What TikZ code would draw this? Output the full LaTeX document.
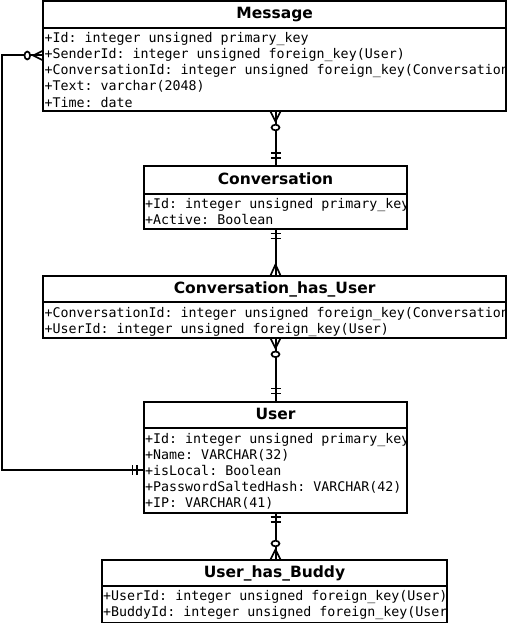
\documentclass[tikz,border=0pt]{standalone}
\usepackage{fontspec}
\setsansfont{DejaVu Sans}
\setmonofont{DejaVu Sans Mono}
\newcommand\errows[4]{% name, x, first baseline, list
  \foreach \rt [count=\ri from 0] in {#4} {\node[erattr] (#1-\ri) at (#2, {-(#3+16*\ri)}) {\rt};}
}
\begin{document}
\begin{tikzpicture}[x=1pt,y=1pt,
  erentity/.style={draw, line width=2pt, inner sep=0pt, outer sep=0pt, rectangle},
  ersep/.style={line width=2pt},
  ertitle/.style={anchor=base, inner sep=0pt, font=\sffamily\bfseries\fontsize{15.5}{16}\selectfont},
  erattr/.style={anchor=base west, inner sep=0pt, font=\ttfamily\fontsize{13.3}{16}\selectfont},
  conn/.style={line width=2pt},
  mk/.style={line width=1.7pt},
  zeromany/.pic={\draw[mk] (0,5)--(10,0)--(0,-5); \draw[mk,fill=white] (16,0) ellipse[x radius=2.8, y radius=4];},
  onemany/.pic={\draw[mk] (0,5)--(11,0)--(0,-5);},
  oneonefar/.pic={\draw[mk] (8,-5)--(8,5) (13,-5)--(13,5);},
  oneonenear/.pic={\draw[mk] (4.5,-5)--(4.5,5) (9.5,-5)--(9.5,5);},
  oneoneside/.pic={\draw[mk] (7,-5)--(7,5) (11.5,-5)--(11.5,5);},
]
\useasboundingbox (0,0) rectangle (508,-623);

% ---------- Message
\node[erentity, minimum width=462.7, minimum height=110.5] (msg) at (274.65,-56.25) {};
\begin{scope}
  \clip (43.3,-1) rectangle (506,-111.5);
  \node[ertitle] (msgt) at (274.65,-19) {Message};
  \errows{msgr}{44.3}{43}{{+Id: integer unsigned primary\_key},{+SenderId: integer unsigned foreign\_key(User)},{+ConversationId: integer unsigned foreign\_key(Conversation)},{+Text: varchar(2048)},{+Time: date}}
\end{scope}
\draw[ersep] ([yshift=-27pt]msg.north west) -- ([yshift=-27pt]msg.north east);

% ---------- Conversation
\node[erentity, minimum width=263, minimum height=63] (conv) at (275.5,-197.5) {};
\begin{scope}
  \clip (144,-166) rectangle (407,-229);
  \node[ertitle] (convt) at (275.5,-184.5) {Conversation};
  \errows{convr}{145}{208.5}{{+Id: integer unsigned primary\_key},{+Active: Boolean}}
\end{scope}
\draw[ersep] ([yshift=-27.5pt]conv.north west) -- ([yshift=-27.5pt]conv.north east);

% ---------- Conversation_has_User
\node[erentity, minimum width=462.7, minimum height=62.8] (chu) at (274.65,-306.9) {};
\begin{scope}
  \clip (43.3,-275.5) rectangle (506,-338.3);
  \node[ertitle] (chut) at (274.65,-293) {Conversation\_has\_User};
  \errows{chur}{44.3}{317}{{+ConversationId: integer unsigned foreign\_key(Conversation)},{+UserId: integer unsigned foreign\_key(User)}}
\end{scope}
\draw[ersep] ([yshift=-26.5pt]chu.north west) -- ([yshift=-26.5pt]chu.north east);

% ---------- User
\node[erentity, minimum width=263, minimum height=111.2] (user) at (275.5,-457.1) {};
\begin{scope}
  \clip (144,-401.5) rectangle (407,-512.7);
  \node[ertitle] (usert) at (275.5,-419.3) {User};
  \errows{userr}{145}{443.3}{{+Id: integer unsigned primary\_key},{+Name: VARCHAR(32)},{+isLocal: Boolean},{+PasswordSaltedHash: VARCHAR(42)},{+IP: VARCHAR(41)}}
\end{scope}
\draw[ersep] ([yshift=-26.8pt]user.north west) -- ([yshift=-26.8pt]user.north east);

% ---------- User_has_Buddy
\node[erentity, minimum width=345, minimum height=63] (uhb) at (274.5,-591) {};
\begin{scope}
  \clip (102,-559.5) rectangle (447,-622.5);
  \node[ertitle] (uhbt) at (274.5,-577.5) {User\_has\_Buddy};
  \errows{uhbr}{103}{600.5}{{+UserId: integer unsigned foreign\_key(User)},{+BuddyId: integer unsigned foreign\_key(User)}}
\end{scope}
\draw[ersep] ([yshift=-26.8pt]uhb.north west) -- ([yshift=-26.8pt]uhb.north east);

% ---------- connectors
\draw[conn] (msg.south -| conv.north) -- (conv.north);
\pic[rotate=-90] at (msg.south -| conv.north) {zeromany};
\pic[rotate=90] at (conv.north) {oneonefar};

\draw[conn] (conv.south) -- (chu.north -| conv.south);
\pic[rotate=-90] at (conv.south) {oneonenear};
\pic[rotate=90] at (chu.north -| conv.south) {onemany};

\draw[conn] (chu.south -| user.north) -- (user.north);
\pic[rotate=-90] at (chu.south -| user.north) {zeromany};
\pic[rotate=90] at (user.north) {oneonefar};

\draw[conn] (user.south) -- (uhb.north -| user.south);
\pic[rotate=-90] at (user.south) {oneonenear};
\pic[rotate=90] at (uhb.north -| user.south) {zeromany};

\coordinate (looptop) at (1.5,-55.5);
\coordinate (loopbot) at (1.5,-470);
\draw[conn] (msg.west |- looptop) -- (looptop) -- (loopbot) -- (user.west |- loopbot);
\pic[rotate=180] at (msg.west |- looptop) {zeromany};
\pic[rotate=180] at (user.west |- loopbot) {oneoneside};
\end{tikzpicture}
\end{document}
